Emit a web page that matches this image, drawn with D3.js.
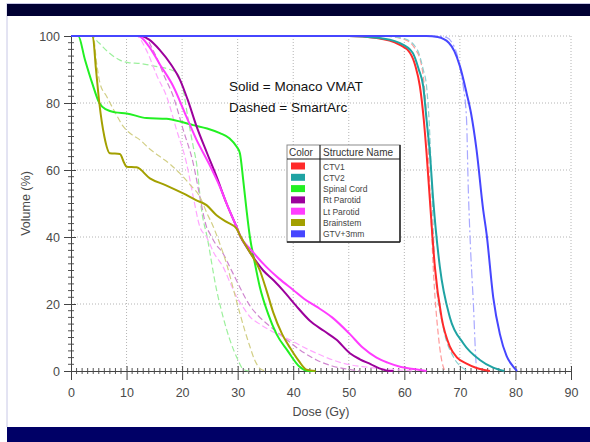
<!DOCTYPE html>
<html>
<head>
<meta charset="utf-8">
<script src="https://cdn.jsdelivr.net/npm/d3@7"></script>
<style>
  body { margin: 0; background: #ffffff; }
  svg { display: block; font-family: "Liberation Sans", Arial, sans-serif; }
</style>
</head>
<body>
<div id="chart"></div>
<script>
// DVH curves, [dose Gy, volume %]
let ctv1Solid = [[0,100],[50,100],[55,99.4],[59,97.5],[61,95],[62,91],[62.8,85],[63.5,75],[64,65],[64.6,51],[65.5,31],[66.7,16],[68.2,7.3],[69.5,4],[71.2,2.2],[73,0.9],[75.4,0]];
let ctv2Solid = [[0,100],[50,100],[55,99.5],[59,98],[61.5,95],[62.6,90],[63.4,85],[64,75],[64.6,65],[65.2,51],[66.4,31],[68.2,16],[70.6,8.3],[73.6,3.3],[76,1],[78,0]];
let cordSolid = [[0,100],[1.3,100],[2.5,93],[3.8,86],[5.1,80],[6.4,78],[8,77.2],[10,76.9],[13.6,75.5],[17.2,75.3],[20,74.3],[22,73.4],[24.5,72.4],[26.8,71],[28.5,69.5],[29.8,67],[30.4,65],[31,57],[31.6,48],[32.2,40],[33,33],[34,25],[35.5,17],[37,11],[39,6],[41,1.5],[42.5,0.1],[44,0]];
let rtParSolid = [[0,100],[12.4,100],[14,99],[16,95.8],[18,91.5],[19.6,87],[21,81],[22.6,73],[24.5,65],[26.2,58],[28,50],[29.8,43],[30.4,40.5],[32,36],[34.6,30],[36.5,27],[38.2,24],[40.5,19.5],[43,15],[45.5,12],[47.8,9.3],[50.2,5.3],[52,3.5],[54,2],[55.5,0.8],[57,0.1],[58,0]];
let ltParSolid = [[0,100],[12.1,100],[14,97],[16,91.5],[18.4,85],[20.5,77],[22.6,69],[24.8,62],[26.8,55],[28.5,48],[29.8,43],[30.4,40.5],[32.5,36],[35.2,31],[37.5,27.5],[40,24.2],[42,21.5],[44.2,19.2],[47,16],[50.2,11],[52.5,7],[55,4],[57,2.5],[59.4,1.2],[62,0.5],[64,0]];
let bstemSolid = [[0,100],[3.9,100],[4.5,90],[5.1,80],[6,70],[7,65],[8.8,64.8],[9.6,62],[10,61],[11.8,60.8],[14.2,57.5],[17,55.5],[20.2,53],[22.5,51],[24.4,49.5],[26.2,46.5],[28,44.5],[29.8,42.5],[30.4,40.5],[32,36],[34,30],[35.2,24],[36.4,17.5],[38,11],[39.4,7],[41,3],[42.4,0.4],[44,0]];
let gtvSolid = [[0,100],[64,100],[66,99.7],[68,98],[69,95.5],[70,91],[71.2,83],[72,77],[73,66],[74.2,48],[74.8,41],[76,22],[77.2,11],[78.4,4.5],[79.6,1.3],[80.3,0]];

let ctv1Dashed = [[0,100],[56,100],[60,99],[62,96],[63,92],[63.6,85],[64.2,70],[64.7,50],[65.2,31],[66.1,11],[67,1.3],[67.5,0]];
let ctv2Dashed = [[0,100],[56,100],[60,99.2],[62.3,96],[63.4,90],[64,85],[64.6,70],[65,52],[65.5,31],[67,13],[68.8,4.3],[70.6,0.8],[71.5,0]];
let cordDashed = [[0,100],[3.5,100],[5,98],[6.5,95.5],[8.8,92.8],[10.5,92],[12.4,91.8],[15,91],[17.2,90.3],[19,89],[20.2,84],[21,76],[22,67],[22.6,62],[23.5,48],[24.5,40],[26.2,24.2],[27.4,16],[28.6,9.3],[30,3.5],[31,0.5],[32,0]];
let rtParDashed = [[0,100],[13,100],[15,95],[16.8,88],[18.4,82],[20.2,72],[22,62],[23.2,52],[24.4,43],[25,41],[26,38],[27.4,35],[28.6,31],[29.8,27],[31,23],[32.2,19.5],[33.7,16.5],[35.2,14.2],[38.2,10.2],[41.2,6.3],[44.2,3.3],[47,1.5],[50,0.5],[52,0]];
let ltParDashed = [[0,100],[11.8,100],[13.5,96],[15.5,88],[17.2,82],[19,72],[20.8,62],[22,52],[23.2,43],[24.4,40],[25.8,35],[27.4,31],[28.6,26.5],[29.8,22.2],[31,19],[32.2,16.2],[34,14],[35.8,12.2],[39.4,9.3],[42,7],[44.2,5.3],[49,2.3],[53,1.2],[57,0.6],[60,0.2],[62,0]];
let bstemDashed = [[0,100],[4,100],[4.6,92],[5.2,86],[6.4,82],[8,77],[9.4,73],[11,70.5],[12.4,69],[14,66.5],[16,64],[18,61.5],[19.6,59],[21.5,55.5],[23.2,52],[24.5,47],[25.5,43.5],[27,37],[28,32],[29.3,24],[30.4,17.2],[31.3,12],[32.2,7.3],[33,3.5],[34,0.8],[35,0]];
let gtvDashed = [[0,100],[66,100],[67.6,99.6],[68.6,98],[69.4,95],[70.2,89],[70.6,85],[71.2,75],[71.5,55],[71.8,41],[72.4,21],[73,1],[73.2,0]];

let structureNames = ["CTV1", "CTV2", "Spinal Cord", "Rt Parotid", "Lt Parotid", "Brainstem", "GTV+3mm"];
let solidColors  = ["#ff2a2a", "#1fa3a3", "#22f022", "#9c009c", "#ff3cff", "#a3a000", "#4646ff"];
let dashedColors = ["#ff9a9a", "#8fd0d0", "#9cf09c", "#cf86cf", "#ffa6ff", "#d2cf86", "#a8a8ff"];
let solidSeries  = [ctv1Solid, ctv2Solid, cordSolid, rtParSolid, ltParSolid, bstemSolid, gtvSolid];
let dashedSeries = [ctv1Dashed, ctv2Dashed, cordDashed, rtParDashed, ltParDashed, bstemDashed, gtvDashed];

let doseTicks = d3.range(0, 91, 10);
let volumeTicks = d3.range(0, 101, 20);

//Options
let W = 590, H = 442;
let pLeft = 71, pRight = 571, pTop = 36, pBottom = 371;
let txt = "#4a4a4a";

let svg = d3.select("#chart").append("svg")
    .attr("width", W)
    .attr("height", H);

// slide frame
svg.append("line").attr("x1", 7).attr("x2", 7).attr("y1", 3).attr("y2", 427).style("stroke", "#c8c8e6").style("stroke-width", 1);
svg.append("line").attr("x1", 7).attr("x2", W).attr("y1", 3.5).attr("y2", 3.5).style("stroke", "#c8c8e6").style("stroke-width", 1);
svg.append("rect").attr("x", 7).attr("y", 4).attr("width", W - 7).attr("height", 12).style("fill", "#000033");
svg.append("rect").attr("x", 7).attr("y", 427).attr("width", W - 7).attr("height", H - 427).style("fill", "#000066");

let x = d3.scaleLinear().domain([0, 90]).range([pLeft, pRight]);
let y = d3.scaleLinear().domain([0, 100]).range([pBottom, pTop]);

// dotted grid
let grid = svg.append("g").attr("id", "grid");
grid.selectAll(".vgrid").data(doseTicks.slice(1)).enter().append("line")
    .attr("x1", d => x(d)).attr("x2", d => x(d))
    .attr("y1", pTop).attr("y2", pBottom)
    .style("stroke", "#b4b4b4").style("stroke-width", 1).style("stroke-dasharray", "1,2");
grid.selectAll(".hgrid").data(volumeTicks.slice(1)).enter().append("line")
    .attr("x1", pLeft).attr("x2", pRight)
    .attr("y1", d => y(d)).attr("y2", d => y(d))
    .style("stroke", "#b4b4b4").style("stroke-width", 1).style("stroke-dasharray", "1,2");

// minor ticks
let minor = svg.append("g").attr("id", "minorTicks");
minor.selectAll(".mx").data(d3.range(1, 91, 1).filter(d => d % 10 != 0)).enter().append("line")
    .attr("x1", d => x(d)).attr("x2", d => x(d))
    .attr("y1", pBottom - 3).attr("y2", pBottom + 3)
    .style("stroke", "#555").style("stroke-width", 1);
minor.selectAll(".my").data(d3.range(2, 100, 2).filter(d => d % 20 != 0)).enter().append("line")
    .attr("x1", pLeft - 3).attr("x2", pLeft + 3)
    .attr("y1", d => y(d)).attr("y2", d => y(d))
    .style("stroke", "#555").style("stroke-width", 1);

// axes
let x_ax = d3.axisBottom(x).tickValues(doseTicks).tickSize(9).tickSizeOuter(0).tickPadding(8);
let xg = svg.append("g")
    .attr("transform", `translate(0,${pBottom})`)
    .call(x_ax);
xg.selectAll(".tick line").attr("y1", -5).style("stroke", "#444");

let y_ax = d3.axisLeft(y).tickValues(volumeTicks).tickSize(7).tickSizeOuter(0).tickPadding(4);
let yg = svg.append("g")
    .attr("transform", `translate(${pLeft},0)`)
    .call(y_ax);
yg.selectAll(".tick line").attr("x1", 5).style("stroke", "#444");

[xg, yg].forEach(g => {
    g.select(".domain").style("stroke", "#444");
    g.selectAll("text")
        .style("font-family", "Liberation Sans, Arial, sans-serif")
        .style("font-size", "12.5px")
        .style("fill", txt);
});

// axis titles
svg.append("text")
    .attr("x", (pLeft + pRight) / 2).attr("y", 416)
    .attr("text-anchor", "middle")
    .style("font-size", "12.5px").style("fill", txt)
    .text("Dose (Gy)");
svg.append("text")
    .attr("transform", `translate(30,${(pTop + pBottom) / 2}) rotate(-90)`)
    .attr("text-anchor", "middle")
    .style("font-size", "12.5px").style("fill", txt)
    .text("Volume (%)");

// curves
let line = d3.line()
    .x(d => x(d[0]))
    .y(d => y(d[1]))
    .curve(d3.curveMonotoneX);

let curves = svg.append("g").attr("id", "curves");
dashedSeries.forEach((s, i) => {
    curves.append("path")
        .attr("d", line(s))
        .style("fill", "none")
        .style("stroke", dashedColors[i])
        .style("stroke-width", 1.2)
        .style("stroke-dasharray", i == 6 ? "9,3,2,3" : "6,3");
});
solidSeries.forEach((s, i) => {
    curves.append("path")
        .attr("d", line(s))
        .style("fill", "none")
        .style("stroke", solidColors[i])
        .style("stroke-width", 2)
        .style("stroke-linejoin", "round");
});

// note
svg.append("text").attr("x", 229).attr("y", 91)
    .style("font-size", "13.5px").style("fill", "#111")
    .text("Solid = Monaco VMAT");
svg.append("text").attr("x", 229).attr("y", 112)
    .style("font-size", "13.5px").style("fill", "#111")
    .text("Dashed = SmartArc");

// legend box
let lx = 287, ly = 145, lw = 113, headH = 14, rowH = 11.3;
let lh = headH + rowH * structureNames.length + 4;
let legend = svg.append("g").attr("id", "legend");
legend.append("rect").attr("x", lx).attr("y", ly).attr("width", lw).attr("height", lh)
    .style("fill", "#ffffff").style("stroke", "#8c8c8c").style("stroke-width", 1);
legend.append("line").attr("x1", lx + lw).attr("x2", lx + lw).attr("y1", ly).attr("y2", ly + lh)
    .style("stroke", "#222").style("stroke-width", 1.5);
legend.append("line").attr("x1", lx).attr("x2", lx + lw).attr("y1", ly + lh).attr("y2", ly + lh)
    .style("stroke", "#222").style("stroke-width", 1.5);
legend.append("line").attr("x1", lx).attr("x2", lx + lw).attr("y1", ly + headH).attr("y2", ly + headH)
    .style("stroke", "#222").style("stroke-width", 1.2);
legend.append("line").attr("x1", lx + 33).attr("x2", lx + 33).attr("y1", ly).attr("y2", ly + lh)
    .style("stroke", "#222").style("stroke-width", 1.2);
legend.append("text").attr("x", lx + 2).attr("y", ly + 10.5)
    .style("font-size", "10px").style("fill", "#333").text("Color");
legend.append("text").attr("x", lx + 36).attr("y", ly + 10.5)
    .style("font-size", "10px").style("fill", "#333").text("Structure Name");

let rows = legend.selectAll(".row").data(structureNames).enter().append("g")
    .attr("transform", (d, i) => `translate(${lx},${ly + headH + 2 + i * rowH})`);
rows.append("rect").attr("x", 4).attr("y", 1.5).attr("width", 14).attr("height", 7)
    .style("fill", (d, i) => solidColors[i]);
rows.append("text").attr("x", 36).attr("y", 8.5)
    .style("font-size", "8.5px").style("fill", "#444")
    .text(d => d);
</script>
</body>
</html>
